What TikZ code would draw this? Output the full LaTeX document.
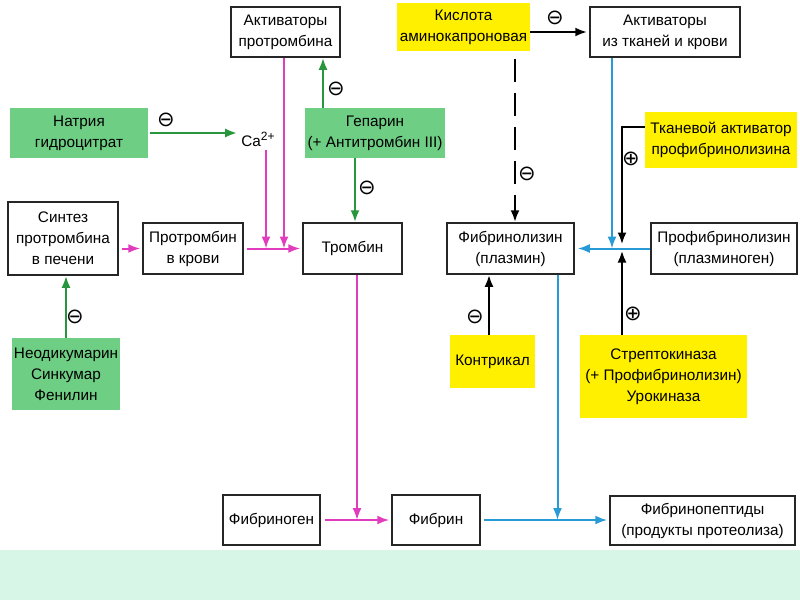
\documentclass[tikz,border=0pt]{standalone}
\usepackage{fontspec}
\setmainfont{Liberation Sans}
\newfontfamily\symfont{DejaVu Sans}
\usetikzlibrary{arrows.meta}
\definecolor{gfill}{RGB}{110,206,132}
\definecolor{yfill}{RGB}{255,240,0}
\definecolor{mag}{RGB}{225,60,190}
\definecolor{blu}{RGB}{40,155,215}
\definecolor{grn}{RGB}{40,150,60}
\definecolor{band}{RGB}{216,246,232}
\tikzset{
  txt/.style={align=center, inner sep=2pt, font=\fontsize{15.3}{21}\selectfont},
  box/.style={txt, draw=black!85, line width=1.5pt, fill=white},
  gbox/.style={txt, fill=gfill},
  ybox/.style={txt, fill=yfill},
  tip/.style={-{Latex[length=12pt,width=9pt]}},
  marr/.style={draw=mag, line width=2pt, tip},
  barr/.style={draw=blu, line width=2pt, tip},
  garr/.style={draw=grn, line width=2.5pt, tip},
  karr/.style={draw=black, line width=2.5pt, tip},
  sym/.style={font=\symfont\fontsize{21}{21}\selectfont, inner sep=0pt}
}
\begin{document}
\begin{tikzpicture}[x=1pt,y=-1pt]
\useasboundingbox (0,0) rectangle (800,600);
\fill[white] (0,0) rectangle (800,600);
\fill[band] (0,550) rectangle (800,600);

% nodes
\node[box, minimum width=109, minimum height=50] (ap) at (285.5,32) {Активаторы\\протромбина};
\node[ybox, minimum width=133, minimum height=48] (ka) at (463.5,27) {Кислота\\аминокапроновая};
\node[box, minimum width=150, minimum height=50] (at) at (665,32) {Активаторы\\из тканей и крови};
\node[gbox, minimum width=138, minimum height=50] (nh) at (79,133) {Натрия\\гидроцитрат};
\node[txt] (ca) at (258,139) {Ca\raisebox{6pt}{\fontsize{12}{12}\selectfont 2+}};
\node[gbox, minimum width=140, minimum height=50] (gp) at (375,133) {Гепарин\\(+ Антитромбин III)};
\node[ybox, minimum width=152, minimum height=56] (ta) at (721,140) {Тканевой активатор\\профибринолизина};
\node[box, minimum width=110, minimum height=73] (sp) at (63,238.5) {Синтез\\протромбина\\в печени};
\node[box, minimum width=100, minimum height=51] (pk) at (193,248.5) {Протромбин\\в крови};
\node[box, minimum width=99, minimum height=51] (tr) at (352.5,248.5) {Тромбин};
\node[box, minimum width=127, minimum height=51] (fl) at (510.5,248.5) {Фибринолизин\\(плазмин)};
\node[box, minimum width=146, minimum height=51] (pf) at (724,248.5) {Профибринолизин\\(плазминоген)};
\node[gbox, minimum width=108, minimum height=72] (nd) at (66,374) {Неодикумарин\\Синкумар\\Фенилин};
\node[ybox, minimum width=85, minimum height=53] (kn) at (492.5,361.5) {Контрикал};
\node[ybox, minimum width=167, minimum height=83] (sk) at (663.5,376.5) {Стрептокиназа\\(+ Профибринолизин)\\Урокиназа};
\node[box, minimum width=97, minimum height=50] (fg) at (271.5,520) {Фибриноген};
\node[box, minimum width=88, minimum height=50] (fb) at (436,520) {Фибрин};
\node[box, minimum width=185, minimum height=49] (fp) at (702.5,520.5) {Фибринопептиды\\(продукты протеолиза)};

\coordinate (jx) at (622,248.5);

% magenta
\draw[marr, shorten <=3pt, shorten >=2pt] (sp.east |- pk.west) -- (pk.west);
\draw[marr, shorten <=3pt, shorten >=2pt] (pk.east) -- (tr.west);
\draw[marr, shorten <=2pt] ([xshift=8]ca.south) -- ([xshift=8]ca.south |- pk.east);
\draw[marr] ([xshift=-1.5]ap.south) -- ([xshift=-1.5]ap.south |- pk.east);
\draw[marr] ([xshift=4.5]tr.south) -- ([xshift=4.5]tr.south |- fg.east);
\draw[marr, shorten <=4pt, shorten >=2pt] (fg.east) -- (fb.west);

% blue
\draw[barr, shorten <=3pt, shorten >=2pt] (fb.east) -- (fb.east -| fp.west);
\draw[barr] ([xshift=47]fl.south) -- ([xshift=47]fl.south |- fb.east);
\draw[barr] ([xshift=-53]at.south) -- ([xshift=-53]at.south |- pf.west);
\draw[barr, shorten >=3pt] (pf.west) -- (fl.east);

% green
\draw[garr, shorten <=2pt, shorten >=2pt] (nh.east) -- (nh.east -| ca.west);
\draw[garr] ([xshift=-52]gp.north) -- ([xshift=-52]gp.north |- ap.south);
\draw[garr] ([xshift=2.5]tr.north |- gp.south) -- ([xshift=2.5]tr.north);
\draw[garr] (nd.north) -- (nd.north |- sp.south);

% black
\draw[karr, shorten >=2pt] (ka.east |- at.west) -- (at.west);
\draw[karr, dash pattern=on 23pt off 11pt, shorten <=8pt] ([xshift=4.5]fl.north |- ka.south) -- ([xshift=4.5]fl.north);
\draw[karr, shorten >=4pt] ([yshift=13]ta.west) -| (jx);
\draw[karr, shorten >=2pt] (sk.north -| jx) -- (jx);
\draw[karr] ([xshift=-3.5]kn.north) -- ([xshift=-3.5]kn.north |- fl.south);

% signs
\node[sym] (s1) at (166,120) {⊖};
\node[sym] (s2) at (336,89) {⊖};
\node[sym] (s3) at (367,188) {⊖};
\node[sym] (s4) at (75,317) {⊖};
\node[sym] (s5) at (555,18) {⊖};
\node[sym] (s6) at (527,174) {⊖};
\node[sym] (s7) at (631,159) {⊕};
\node[sym] (s8) at (475,317) {⊖};
\node[sym] (s9) at (633,314) {⊕};
\end{tikzpicture}
\end{document}
